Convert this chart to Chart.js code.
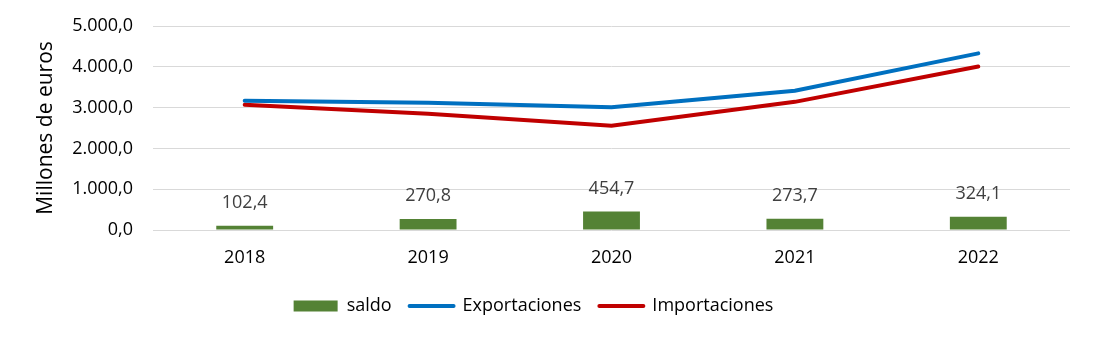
<!DOCTYPE html>
<html lang="es">
<head>
  <meta charset="UTF-8" />
  <title>Saldo, exportaciones e importaciones</title>
  <script src="https://cdn.jsdelivr.net/npm/chart.js"></script>
  <style>
    html, body { margin: 0; padding: 0; background: #fff; }
    .wrap { width: 1097px; height: 342px; }
  </style>
</head>
<body>
  <div class="wrap"><canvas id="chart" width="1097" height="342"></canvas></div>

  <script>
    const years = ['2018', '2019', '2020', '2021', '2022'];
    const saldo = [102.4, 270.8, 454.7, 273.7, 324.1];
    const exportaciones = [3170, 3120, 3010, 3415, 4330];
    const importaciones = [3068, 2849, 2555, 3141, 4006];
    const yTicks = [0, 1000, 2000, 3000, 4000, 5000];

    const FONT = '"Open Sans", "Liberation Sans", sans-serif';

    // 1234.5 -> "1.234,5"
    function fmt(v) {
      const parts = Math.abs(v).toFixed(1).split('.');
      const int = parts[0].replace(/\B(?=(\d{3})+(?!\d))/g, '.');
      return (v < 0 ? '-' : '') + int + ',' + parts[1];
    }

    const barLabels = {
      id: 'barLabels',
      afterDatasetsDraw(chart) {
        const ctx = chart.ctx;
        const meta = chart.getDatasetMeta(0);
        ctx.save();
        ctx.font = '18px ' + FONT;
        ctx.fillStyle = '#404040';
        ctx.textAlign = 'center';
        ctx.textBaseline = 'middle';
        meta.data.forEach((bar, i) => {
          ctx.fillText(fmt(saldo[i]), bar.x, bar.y - 23);
        });
        ctx.restore();
      }
    };

    // legend sits a bit left of the plot centre in the original
    const legendShift = {
      id: 'legendShift',
      afterLayout(chart) {
        chart.legend.left -= 18;
        chart.legend.right -= 18;
      }
    };

    new Chart(document.getElementById('chart').getContext('2d'), {
      type: 'bar',
      data: {
        labels: years,
        datasets: [
          {
            label: 'saldo',
            data: saldo,
            backgroundColor: '#548235',
            barPercentage: 0.31,
            categoryPercentage: 1,
            order: 3
          },
          {
            type: 'line',
            label: 'Exportaciones',
            data: exportaciones,
            borderColor: '#0070C0',
            backgroundColor: '#0070C0',
            borderWidth: 4,
            borderCapStyle: 'round',
            pointRadius: 0,
            tension: 0,
            order: 1
          },
          {
            type: 'line',
            label: 'Importaciones',
            data: importaciones,
            borderColor: '#C00000',
            backgroundColor: '#C00000',
            borderWidth: 4,
            borderCapStyle: 'round',
            pointRadius: 0,
            tension: 0,
            order: 2
          }
        ]
      },
      options: {
        responsive: false,
        animation: false,
        layout: { padding: { left: 33, right: 27, top: 26, bottom: 17 } },
        plugins: {
          tooltip: { enabled: false },
          legend: {
            position: 'bottom',
            labels: {
              usePointStyle: true,
              pointStyleWidth: 44,
              boxHeight: 11,
              padding: 18,
              color: '#000',
              font: { family: FONT, size: 18 },
              generateLabels(chart) {
                return chart.data.datasets.map((ds, i) => ({
                  text: ds.label,
                  datasetIndex: i,
                  fillStyle: ds.backgroundColor,
                  strokeStyle: ds.type === 'line' ? ds.borderColor : ds.backgroundColor,
                  lineWidth: ds.type === 'line' ? 4 : 0,
                  lineCap: 'round',
                  pointStyle: ds.type === 'line' ? 'line' : 'rect',
                  fontColor: '#000'
                }));
              }
            }
          }
        },
        scales: {
          x: {
            afterFit(scale) { scale.height = 49; },
            grid: { display: false, drawTicks: false },
            border: { display: false },
            ticks: { color: '#000', padding: 17, font: { family: FONT, size: 18 } }
          },
          y: {
            min: 0,
            max: 5000,
            afterFit(scale) {
              scale.width = 120;
              // tick padding would otherwise push the plot top down
              scale.paddingTop = 0;
              scale.paddingBottom = 0;
            },
            afterBuildTicks(scale) { scale.ticks = yTicks.map(v => ({ value: v })); },
            grid: { color: '#d9d9d9', lineWidth: 1, drawTicks: false },
            border: { display: false },
            ticks: {
              color: '#000',
              padding: 20,
              font: { family: FONT, size: 18 },
              callback: v => fmt(v)
            },
            title: {
              display: true,
              text: 'Millones de euros',
              color: '#000',
              padding: { top: 0, bottom: 0 },
              font: { family: FONT, size: 21 }
            }
          }
        }
      },
      plugins: [barLabels, legendShift]
    });
  </script>
</body>
</html>
